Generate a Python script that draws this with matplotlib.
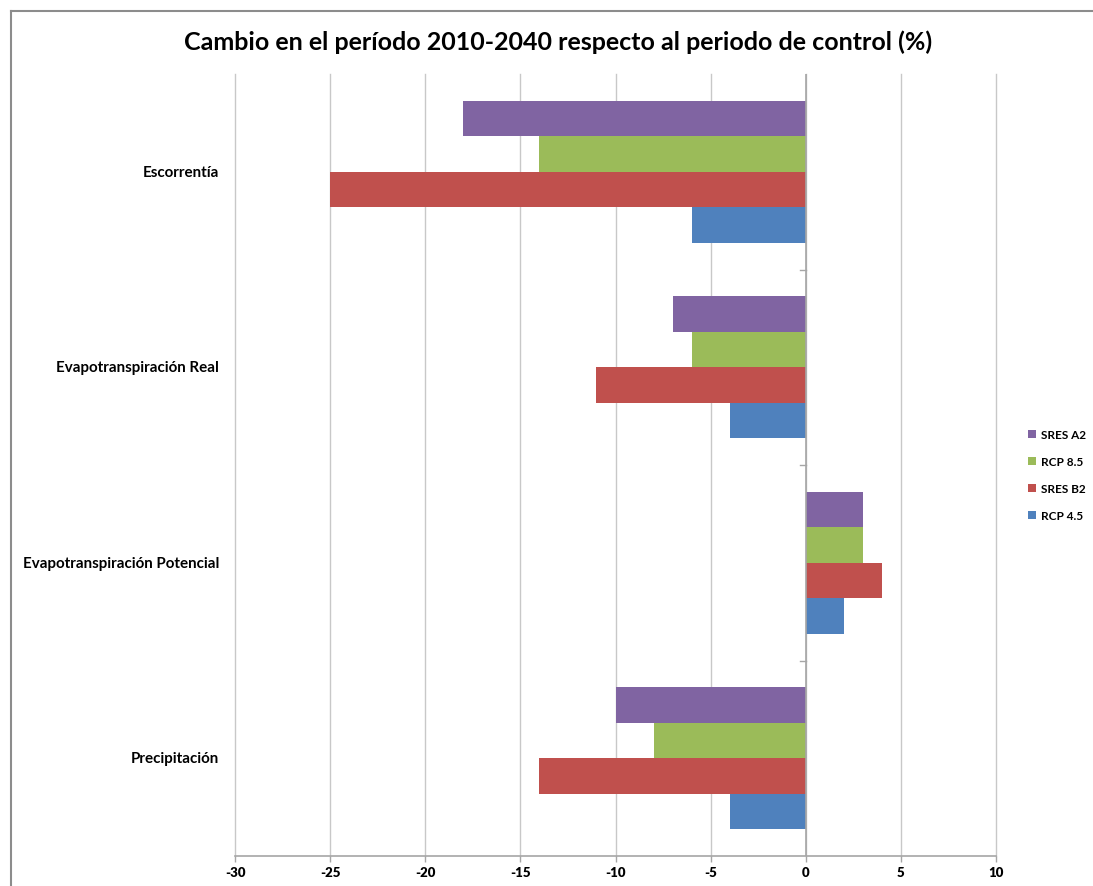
import matplotlib
matplotlib.use("Agg")
import matplotlib.pyplot as plt
from matplotlib.lines import Line2D
from matplotlib.patches import Patch
import matplotlib.transforms as mtransforms
import numpy as np

# Categories, bottom to top
categories = ["Precipitación", "Evapotranspiración Potencial",
              "Evapotranspiración Real", "Escorrentía"]

# Series (drawn bottom to top inside each category)
series_names = ["RCP 4.5", "SRES B2", "RCP 8.5", "SRES A2"]
series_colors = ["#4F81BD", "#C0504D", "#9BBB59", "#8064A2"]

rcp45 = [-4, 2, -4, -6]
sres_b2 = [-14, 4, -11, -25]
rcp85 = [-8, 3, -6, -14]
sres_a2 = [-10, 3, -7, -18]
series_values = [rcp45, sres_b2, rcp85, sres_a2]

x_ticks = [-30, -25, -20, -15, -10, -5, 0, 5, 10]
title = "Cambio en el período 2010-2040 respecto al periodo de control (%)"

FONT = "Lato"
W, H = 1093, 887
fig = plt.figure(figsize=(W / 100, H / 100), dpi=100)
fig.patch.set_facecolor("white")

ax = fig.add_axes([235 / W, 30 / H, (996 - 235) / W, (857 - 75) / H])

n_series = len(series_values)
bar_h = 1.0 / (n_series + 1.5)
y = np.arange(len(categories))
for j, (vals, col) in enumerate(zip(series_values, series_colors)):
    ax.barh(y + (j - (n_series - 1) / 2) * bar_h, vals, height=bar_h,
            color=col, edgecolor="none", zorder=3)

ax.set_xlim(-30, 10)
ax.set_ylim(-0.5, len(categories) - 0.5)
ax.set_xticks(x_ticks)
ax.set_xticklabels([f"{t:d}" for t in x_ticks],
                   fontfamily=FONT, fontweight="heavy", fontsize=9.5)
ax.xaxis.grid(True, color="#C8C8C8", linewidth=1.0, zorder=0)
for gl in ax.get_xgridlines():
    gl.set_clip_on(False)
ax.tick_params(axis="x", length=4, width=1, color="#A6A6A6", pad=3)

for s in ["top", "right", "left"]:
    ax.spines[s].set_visible(False)
ax.spines["bottom"].set_color("#A6A6A6")
ax.spines["bottom"].set_linewidth(1.2)

# value axis at zero with category separators
ax.axvline(0, color="#A6A6A6", linewidth=1.2, zorder=4)
for b in np.arange(0.5, len(categories) - 0.5, 1.0):
    ax.plot([-0.28, 0], [b, b], color="#A6A6A6", linewidth=1.0, zorder=4,
            clip_on=False)
ax.set_yticks([])

label_tf = mtransforms.blended_transform_factory(fig.transFigure, ax.transData)
for i, name in enumerate(categories):
    ax.text(219 / W, i, name, ha="right", va="center", transform=label_tf,
            fontfamily=FONT, fontweight="bold", fontsize=10.9)

fig.text(558 / W, 1 - 42 / H, title, ha="center", va="center",
         fontfamily=FONT, fontweight="bold", fontsize=18)

handles = [Patch(facecolor=c, edgecolor="none") for c in series_colors[::-1]]
leg = fig.legend(handles, series_names[::-1], loc="center left",
                 bbox_to_anchor=(1017 / W, 1 - 476 / H), frameon=False,
                 handlelength=0.7, handleheight=0.7, handletextpad=0.45,
                 labelspacing=1.35, prop={"family": FONT, "weight": "bold",
                                          "size": 8.5})

# chart frame
fig.add_artist(Line2D([11 / W, 11 / W], [0, 1 - 11.5 / H], color="#8C8C8C",
                      linewidth=1.5))
fig.add_artist(Line2D([11 / W, 1], [1 - 11.5 / H, 1 - 11.5 / H],
                      color="#8C8C8C", linewidth=1.5))

fig.savefig("out.png", dpi=100, facecolor="white")
